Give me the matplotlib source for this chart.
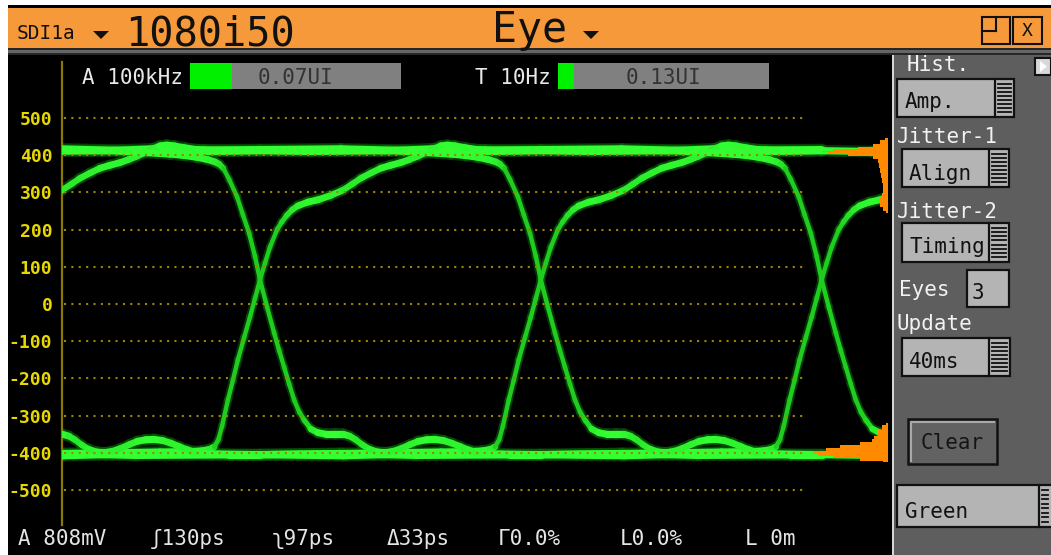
import numpy as np
import matplotlib
matplotlib.use("Agg")
import matplotlib.pyplot as plt
from matplotlib.patches import Rectangle, Polygon
from matplotlib.collections import LineCollection

plt.rcParams['font.family'] = ['DejaVu Sans Mono', 'DejaVu Sans']
plt.rcParams['lines.scale_dashes'] = False

W, H = 1051, 555

# ---------------- data ----------------
UI_PS = 674                      # one unit interval (ps)
eye_crossings = [0, 1, 2, 3]     # crossing index of each displayed eye edge
amp_ticks = [500, 400, 300, 200, 100, 0, -100, -200, -300, -400, -500]
amp_tick_labels = ["500", "400", "300", "200", "100", "0",
                   "-100", "-200", "-300", "-400", "-500"]

# trajectories around one crossing: time (ps, relative to crossing), amplitude (mV)
rise_t = [-674, -480, -360, -240, -168, -140, -122, -110, -100, -91, -77, -65, -53, -38, -24, -12,
          0, 12, 24, 41, 52, 64, 77, 91, 115, 139, 168, 199, 221, 242, 266, 290, 314,
          338, 358, 378, 398, 418, 434, 450, 468, 492, 528, 576, 674]
rise_v = [-405, -402, -400, -398, -397, -395, -391, -384, -365, -328, -258, -205, -150, -90, -35, 15,
          65, 110, 153, 200, 220, 238, 253, 264, 274, 280, 291, 306, 322, 338, 352, 365, 373,
          380, 388, 397, 407, 418, 425, 427, 425, 420, 414, 412, 413]

fall_t = [-674, -480, -360, -288, -216, -180, -150, -125, -108, -98, -88, -74, -55, -41, -26, -12,
          0, 17, 34, 46, 58, 70, 82, 94, 106, 122, 139, 158, 180, 199, 215, 230, 245,
          262, 282, 300, 320, 340, 360, 380, 400, 420, 440, 460, 480, 500, 520, 540, 600, 674]
fall_v = [413, 414, 412, 408, 403, 399, 394, 388, 382, 376, 365, 335, 288, 240, 190, 128,
          65, -8, -78, -125, -170, -215, -258, -290, -312, -336, -346, -350, -350, -350, -355, -365, -378,
          -390, -398, -400, -396, -388, -378, -369, -365, -364, -367, -374, -383, -392, -399, -403, -405, -405]

high_t = [-674, -480, -300, -120, 0, 120, 300, 434, 540, 674]
high_v = [415, 417, 412, 410, 412, 410, 412, 418, 414, 415]

low_t = [-674, -480, -300, 0, 200, 420, 674]
low_v = [-405, -402, -407, -405, -408, -401, -405]

# amplitude histograms (mV, relative count)
hist_top_mv = [446, 435, 427, 419, 414, 411, 406, 400, 395, 387, 373, 360, 346, 333,
               320, 306, 293, 280, 266, 255, 245]
hist_top_cnt = [3, 8, 15, 30, 55, 66, 60, 40, 15, 10, 9, 8, 7, 6, 5, 5, 6, 8, 8, 5, 2]
hist_bot_mv = [-320, -331, -347, -360, -366, -374, -384, -392, -400, -406, -411, -419, -425]
hist_bot_cnt = [2, 6, 10, 14, 16, 28, 48, 62, 75, 70, 55, 28, 5]

title_source = "SDI1a"
title_format = "1080i50"
title_mode = "Eye"
jitter_names = ["A 100kHz", "T 10Hz"]
jitter_values = ["0.07UI", "0.13UI"]
jitter_fill = [0.20, 0.076]
measure_labels = ["A 808mV", "\u0283130ps", "\u028597ps", "\u039433ps",
                  "\u03930.0%", "L0.0%", "L 0m"]
panel_labels = ["Hist.", "Jitter-1", "Jitter-2", "Eyes", "Update"]
panel_choices = ["Amp.", "Align", "Timing", "3", "40ms", "Clear", "Green"]

# ---------------- figure ----------------
fig = plt.figure(figsize=(W / 100, H / 100), dpi=100, facecolor='white')

def fpos(x0, y0, x1, y1):
    return [x0 / W, 1 - y1 / H, (x1 - x0) / W, (y1 - y0) / H]

bg = fig.add_axes([0, 0, 1, 1], zorder=0)
bg.set_xlim(0, W)
bg.set_ylim(H, 0)
bg.axis('off')

ORANGE = '#f6993a'
PANEL = '#5e5e5e'
BOX = '#b4b4b4'

def rect(x0, y0, x1, y1, fc, ec='none', lw=0, z=1):
    bg.add_patch(Rectangle((x0, y0), x1 - x0, y1 - y0, facecolor=fc, edgecolor=ec,
                           linewidth=lw, zorder=z))

# main black area and title bar
rect(8, 55, 1051, 555, 'black')
rect(8, 5, 1051, 8, 'black')
rect(8, 8, 1051, 48, ORANGE)
rect(8, 48, 1051, 55, '#262626')
rect(8, 50, 1051, 53, '#666666')

# title texts
bg.text(17, 39, title_source, fontsize=14, color='#111111', ha='left', va='baseline', zorder=3)
bg.add_patch(Polygon([(93, 31), (109, 31), (101, 39)], closed=True, facecolor='#111111', zorder=3))
bg.text(125, 45, title_format, fontsize=29, color='#111111', ha='left', va='baseline', zorder=3)
bg.text(492, 42, title_mode, fontsize=30, color='#111111', ha='left', va='baseline', zorder=3)
bg.add_patch(Polygon([(583, 31), (599, 31), (591, 39)], closed=True, facecolor='#111111', zorder=3))
# window buttons
rect(982, 17, 1010, 44, 'none', '#111111', 1.5, 3)
bg.plot([996, 996], [17, 31], color='#111111', lw=1.5, zorder=3)
bg.plot([982, 996], [31, 31], color='#111111', lw=1.5, zorder=3)
rect(1013, 17, 1042, 44, 'none', '#111111', 1.5, 3)
bg.text(1027.5, 31, "X", fontsize=13, color='#111111', ha='center', va='center', zorder=3)

# jitter bars on top of plot
bars = [(82, 190, 401), (475, 558, 769)]
for (tx, b0, b1), name, val, frac in zip(bars, jitter_names, jitter_values, jitter_fill):
    bg.text(tx, 84, name, fontsize=15, color='#e8e8e8', ha='left', va='baseline', zorder=3)
    rect(b0, 63, b1, 89, '#808080', z=2)
    rect(b0, 63, b0 + frac * (b1 - b0), 89, '#00f000', z=3)
    bg.text(b0 + (b1 - b0) * 0.50, 84, val, fontsize=15, color='#333333',
            ha='center', va='baseline', zorder=4)

# bottom measurements
measure_x = [18, 150, 272, 387, 498, 620, 745]
for x, s in zip(measure_x, measure_labels):
    bg.text(x, 545, s, fontsize=15, color='#e4e4e4', ha='left', va='baseline', zorder=3)

# right panel
rect(892, 55, 1051, 555, PANEL)
rect(892, 55, 894, 555, '#d6d6d6', z=2)

def dropdown(x0, y0, x1, y1, xdiv, text, tx, tb):
    rect(x0, y0, x1, y1, BOX, '#111111', 1.6, 3)
    bg.plot([xdiv, xdiv], [y0, y1], color='#111111', lw=1.6, zorder=4)
    for yy in np.linspace(y0 + 5, y1 - 5, 8):
        bg.plot([xdiv + 3, min(x1, 1051) - 3], [yy, yy], color='#111111', lw=1.3, zorder=4)
    bg.text(tx, tb, text, fontsize=15, color='#111111', ha='left', va='baseline', zorder=5)

def label(x, yb, s):
    bg.text(x, yb, s, fontsize=15, color='#f2f2f2', ha='left', va='baseline', zorder=3)

label(907, 71, panel_labels[0])
rect(1035, 58, 1051, 75, '#d8d8d8', '#111111', 1.5, 3)
bg.add_patch(Polygon([(1040, 61), (1040, 72), (1047, 66.5)], closed=True, facecolor='white', zorder=4))
dropdown(897, 79, 1014, 117, 995, panel_choices[0], 905, 108)
label(897, 143, panel_labels[1])
dropdown(902, 149, 1009, 187, 989, panel_choices[1], 909, 180)
label(897, 218, panel_labels[2])
dropdown(902, 223, 1009, 262, 989, panel_choices[2], 909, 253)
label(899, 296, panel_labels[3])
rect(967, 270, 1009, 307, BOX, '#111111', 1.6, 3)
bg.text(972, 299, panel_choices[3], fontsize=15, color='#111111', ha='left', va='baseline', zorder=5)
label(897, 330, panel_labels[4])
dropdown(902, 338, 1010, 376, 989, panel_choices[4], 909, 368)
# Clear button
rect(908, 419, 997, 464, '#626262', '#111111', 1.8, 3)
bg.plot([911, 911, 994], [461, 422, 422], color='#a8a8a8', lw=1.5, zorder=4)
bg.text(952, 449, panel_choices[5], fontsize=15, color='#151515', ha='center', va='baseline', zorder=5)
dropdown(897, 485, 1056, 527, 1039, panel_choices[6], 905, 518)

# ---------------- eye diagram axes ----------------
def px_to_ps(px):
    return UI_PS + (px - 260) * 2.4

def px_to_mv(py):
    return (304 - py) / 0.372

ax = fig.add_axes(fpos(62, 55, 888, 555), zorder=1)
ax.set_facecolor('none')
ax.set_xlim(px_to_ps(62), px_to_ps(888))
ax.set_ylim(px_to_mv(555), px_to_mv(55))
for s in ['top', 'right', 'bottom']:
    ax.spines[s].set_visible(False)
ax.spines['left'].set_color('#8a7800')
ax.spines['left'].set_linewidth(1.6)
ax.spines['left'].set_bounds(px_to_mv(525), px_to_mv(62))
ax.set_xticks([])
ax.set_yticks(amp_ticks)
ax.set_yticklabels(amp_tick_labels)
ax.tick_params(axis='y', length=0, pad=7, labelsize=13, labelcolor='#e6d800')
for lab in ax.get_yticklabels():
    lab.set_fontweight('bold')

segs_all, cols_all, lw_all, glw_all = [], [], [], []
bright = np.array([0.20, 1.0, 0.20])
dim = np.array([0.12, 0.80, 0.12])
for t, v in [(low_t, low_v), (high_t, high_v), (rise_t, rise_v), (fall_t, fall_v)]:
    t = np.asarray(t, float)
    v = np.asarray(v, float)
    for k in eye_crossings:
        tt = t + k * UI_PS
        pts = np.column_stack([tt, v])
        segs = np.stack([pts[:-1], pts[1:]], axis=1)
        slope = np.abs(np.diff(v) / np.diff(tt))
        s = np.clip(slope / 2.0, 0, 1)
        segs_all.extend(segs)
        cols_all.extend(bright * (1 - s[:, None]) + dim * s[:, None])
        lw_all.extend(5.2 * (1 - s) + 3.2 * s)
        glw_all.extend(8.5 * (1 - s) + 6.0 * s)

ax.add_collection(LineCollection(segs_all, colors=[(0.03, 0.38, 0.03, 0.55)], linewidths=glw_all,
                                 capstyle='round', joinstyle='round', zorder=2))
ax.add_collection(LineCollection(segs_all, colors=cols_all, linewidths=lw_all,
                                 capstyle='round', joinstyle='round', zorder=3))

# dotted grid drawn over traces
gx_end = px_to_ps(805)
for yv in amp_ticks:
    ax.plot([px_to_ps(64), gx_end], [yv, yv], color='#9a8600', lw=1.5,
            linestyle=(0, (1.5, 3.8)), zorder=4)

# amplitude histogram
hx = fig.add_axes(fpos(813, 55, 888, 555), zorder=2)
hx.set_facecolor('none')
hx.set_xlim(75, 0)
hx.set_ylim(px_to_mv(555), px_to_mv(55))
hx.axis('off')
hx.fill_betweenx(hist_top_mv, 0, hist_top_cnt, step='mid', color='#ff8a00', lw=0)
hx.fill_betweenx(hist_bot_mv, 0, hist_bot_cnt, step='mid', color='#ff8a00', lw=0)

fig.savefig('out.png', dpi=100, facecolor='white')
